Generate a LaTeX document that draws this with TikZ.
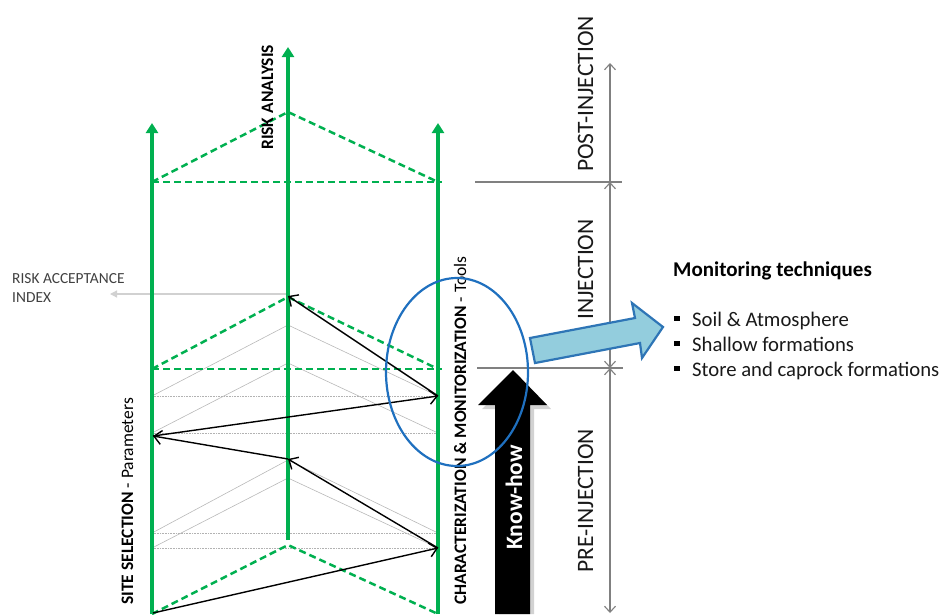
\documentclass[tikz,border=0pt]{standalone}
\usepackage{fontspec}
\setmainfont{Carlito}
\usetikzlibrary{arrows.meta}
\definecolor{grn}{HTML}{00B050}
\definecolor{lblue}{HTML}{93CDDD}
\definecolor{dblue}{HTML}{2E75B6}
\definecolor{ellblue}{HTML}{1F70BF}
\begin{document}
\begin{tikzpicture}[x=1pt,y=-1pt,
  axisline/.style={grn, line width=3.5pt, -{Triangle[length=10pt,width=12pt]}},
  gdash/.style={grn, line width=2.5pt, dash pattern=on 7pt off 4pt},
  slantgray/.style={black!28, line width=0.6pt},
  dotgray/.style={black!30, line width=0.7pt, dash pattern=on 1pt off 0.6pt},
  flow/.style={black, line width=1.4pt, -{Straight Barb[length=7.5pt,width=14pt]}},
  phaseline/.style={black!50, line width=1.1pt},
  ptip/.style={black!50, line width=1.1pt, {Straight Barb[length=6pt,width=11pt]}-{Straight Barb[length=6pt,width=11pt]}},
  ptipone/.style={black!50, line width=1.1pt, -{Straight Barb[length=6pt,width=11pt]}},
  vlab/.style={rotate=90, anchor=base west, inner sep=0pt, font=\fontsize{17.5}{20}\selectfont},
  plab/.style={rotate=90, anchor=base west, inner sep=0pt, font=\fontsize{23.5}{26}\selectfont, text=black!90},
  bulletsq/.style={fill=black, minimum size=5.5pt, inner sep=0pt, draw=none},
  itemtxt/.style={anchor=base west, inner sep=0pt, font=\fontsize{20.7}{24}\selectfont, text=black!90}
]
\useasboundingbox (0,0) rectangle (944,614);

% key coordinates
\coordinate (Lb) at (152,614); \coordinate (Lt) at (152,123);
\coordinate (Mb) at (288,540); \coordinate (Mt) at (288,47);
\coordinate (Rb) at (438,614); \coordinate (Rt) at (438,123);

\coordinate (A1) at (288,112); \coordinate (L182) at (152,182); \coordinate (R182) at (438,182); \coordinate (R182e) at (442,182);
\coordinate (A2) at (288,297); \coordinate (L369) at (152,369); \coordinate (R369) at (438,369); \coordinate (R369e) at (442,369);
\coordinate (A3) at (288,545); \coordinate (L614) at (152,614); \coordinate (R614) at (438,614);

% gray construction lines
\foreach \ay/\by in {325/396, 363/433, 460/533, 478/548}{
  \draw[slantgray] (152,\by) -- (288,\ay) -- (438,\by);
  \draw[dotgray] (152,\by) -- (438,\by);
}

% risk acceptance index arrow
\coordinate (RAend) at (110,294);
\coordinate (RAstart) at (288,294);
\draw[black!18, line width=1.3pt, -{Triangle[length=7pt,width=7pt]}] (RAstart) -- (RAend);
\node[anchor=base west, inner sep=0pt, font=\fontsize{15.4}{19}\selectfont, text=black!75] (RAI) at (12,283) {RISK ACCEPTANCE};
\node[anchor=base west, inner sep=0pt, font=\fontsize{15.4}{19}\selectfont, text=black!75] (RAI2) at (12,302) {INDEX};

% green dashed triangles
\draw[gdash] (L182) -- (A1) -- (R182);
\draw[gdash] (L182) -- (R182e);
\draw[gdash] (L369) -- (A2) -- (R369);
\draw[gdash] (L369) -- (R369e);
\draw[gdash] (L614) -- (A3) -- (R614);

% green axes
\draw[axisline] (Lb) -- (Lt);
\draw[axisline] (Mb) -- (Mt);
\draw[axisline] (Rb) -- (Rt);

% black flow arrows
\coordinate (P1) at (438,396); \coordinate (P2) at (288,296);
\coordinate (P3) at (153,436); \coordinate (P4) at (288,459);
\coordinate (P5) at (438,548); \coordinate (P6) at (153,613);
\draw[flow] (P1) -- (P2);
\draw[flow] (P3) -- (P1);
\draw[flow] (P4) -- (P3);
\draw[flow] (P5) -- (P4);
\draw[flow] (P6) -- (P5);

% axis labels
\node[vlab] (ra) at (273,150) {\bfseries RISK ANALYSIS};
\node[vlab] (ss) at (133,605) {\bfseries SITE SELECTION\mdseries{} - Parameters};
\node[vlab] (cm) at (466,605) {\bfseries CHARACTERIZATION \& MONITORIZATION\mdseries{} - Tools};

% know-how arrow with shadow
\fill[black!22, opacity=0.8] (499,614) -- (499,409) -- (482,409) -- (517,374) -- (551,409) -- (534,409) -- (534,614) -- cycle;
\fill[black] (495,614) -- (495,405) -- (478,405) -- (513,370) -- (547,405) -- (530,405) -- (530,614) -- cycle;
\node[rotate=90, anchor=base west, inner sep=0pt, text=white, font=\fontsize{23.5}{26}\selectfont\bfseries] (kh) at (522,550) {Know-how};

% phase axis
\coordinate (H1a) at (475,182); \coordinate (H1b) at (622,182);
\coordinate (H2a) at (477,368); \coordinate (H2b) at (623,368);
\coordinate (V0) at (610,63); \coordinate (V1) at (610,182); \coordinate (V2) at (610,368); \coordinate (V3) at (610,613);
\draw[phaseline] (H1a) -- (H1b);
\draw[phaseline] (H2a) -- (H2b);
\draw[ptipone] (V1) -- (V0);
\draw[ptip] (V2) -- (V1);
\draw[ptip] (V3) -- (V2);
\node[plab] (post) at (593,172) {POST-INJECTION};
\node[plab] (inj) at (593,320) {INJECTION};
\node[plab] (pre) at (593,573) {PRE-INJECTION};

% blue ellipse
\draw[ellblue, line width=2.2pt] (457,372) ellipse [x radius=71, y radius=94];

% blue block arrow
\draw[dblue, line width=2.2pt, fill=lblue, line join=miter] (530,338) -- (635,318) -- (632,303) -- (663,327) -- (642,358) -- (640,343) -- (535,363) -- cycle;

% monitoring techniques list
\node[anchor=base west, inner sep=0pt, font=\fontsize{21}{24}\selectfont\bfseries] (mt) at (673,276) {Monitoring techniques};
\node[bulletsq] (b1) at (677,318.5) {};
\node[bulletsq] (b2) at (677,343.5) {};
\node[bulletsq] (b3) at (677,368.5) {};
\node[itemtxt] (i1) at (692,326) {Soil \& Atmosphere};
\node[itemtxt] (i2) at (692,351.5) {Shallow formations};
\node[itemtxt] (i3) at (692,376.5) {Store and caprock formations};
\end{tikzpicture}
\end{document}
